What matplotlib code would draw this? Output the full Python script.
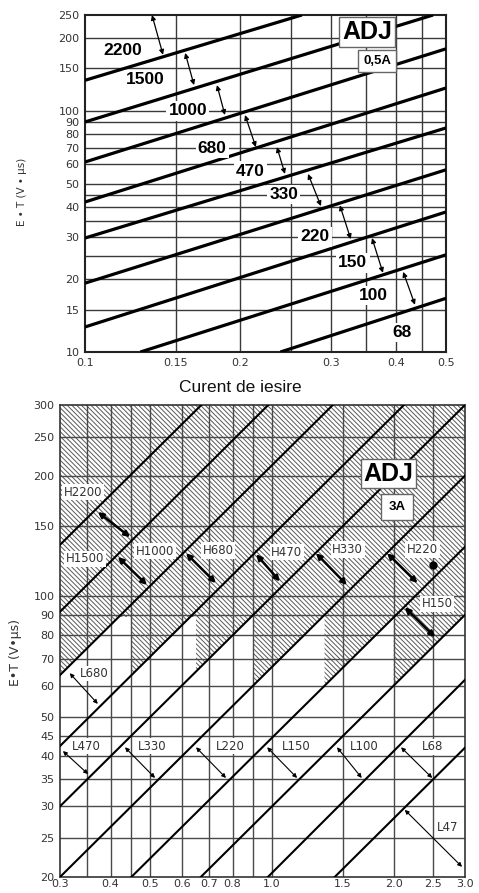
import matplotlib
matplotlib.use('Agg')
import matplotlib.pyplot as plt
import numpy as np
from matplotlib.ticker import NullLocator, NullFormatter

plt.rcParams['hatch.linewidth'] = 0.7
plt.rcParams['font.family'] = ['DejaVu Sans']

# ---------------- TOP PANEL DATA (0,5A) ----------------
top_x_ticks = [0.1, 0.15, 0.2, 0.3, 0.4, 0.5]
top_x_ticklabels = ['0.1', '0.15', '0.2', '0.3', '0.4', '0.5']
top_y_ticks = [10, 15, 20, 30, 40, 50, 60, 70, 80, 90, 100, 150, 200, 250]
top_y_ticklabels = [str(v) for v in top_y_ticks]
top_x_grid = [0.15, 0.2, 0.25, 0.3, 0.35, 0.4, 0.45]
top_y_grid = [15, 20, 25, 30, 35, 40, 45, 50, 60, 70, 80, 90, 100, 150, 200]

# inductance boundary lines (start / end points)
top_line_x0 = [0.1, 0.1, 0.1, 0.1, 0.1, 0.1, 0.1, 0.128, 0.239]
top_line_y0 = [134, 90, 61.4, 41.9, 29.7, 19.3, 12.7, 10, 10]
top_line_x1 = [0.263, 0.472, 0.5, 0.5, 0.5, 0.5, 0.5, 0.5, 0.5]
top_line_y1 = [250, 250, 181, 124.5, 85, 57, 38.1, 25.3, 16.7]

top_labels = ['2200', '1500', '1000', '680', '470', '330', '220', '150', '100', '68']
top_label_x = [0.1185, 0.1307, 0.1582, 0.1763, 0.2087, 0.2428, 0.2788, 0.3302, 0.3609, 0.4108]
top_label_y = [178.9, 134.4, 100, 70, 56.3, 45, 30, 23.4, 17.2, 12.0]

top_arr_x0 = [0.1348, 0.1563, 0.1801, 0.2041, 0.2353, 0.2703, 0.3115, 0.3595, 0.4131]
top_arr_y0 = [250, 174, 128, 96.2, 70.8, 54.8, 40.6, 29.7, 21.5]
top_arr_x1 = [0.1416, 0.1626, 0.1866, 0.2142, 0.2439, 0.2863, 0.3270, 0.3775, 0.4354]
top_arr_y1 = [171, 128, 96.2, 70.8, 54.8, 40.3, 29.4, 21.3, 15.7]

# ---------------- BOTTOM PANEL DATA (3A) ----------------
bot_x_ticks = [0.3, 0.4, 0.5, 0.6, 0.7, 0.8, 1.0, 1.5, 2.0, 2.5, 3.0]
bot_x_ticklabels = ['0.3', '0.4', '0.5', '0.6', '0.7', '0.8', '1.0', '1.5', '2.0', '2.5', '3.0']
bot_y_ticks = [20, 25, 30, 35, 40, 45, 50, 60, 70, 80, 90, 100, 150, 200, 250, 300]
bot_y_ticklabels = [str(v) for v in bot_y_ticks]
bot_x_grid = [0.35, 0.4, 0.45, 0.5, 0.6, 0.7, 0.8, 0.9, 1.0, 1.5, 2.0, 2.5]
bot_y_grid = [25, 30, 35, 40, 45, 50, 60, 70, 80, 90, 100, 150, 200, 250]

bot_line_x0 = [0.3, 0.3, 0.3, 0.3, 0.3, 0.3, 0.45, 0.668, 0.978, 1.43]
bot_line_y0 = [134.5, 91.6, 63.7, 42.4, 30, 20, 20, 20, 20, 20]
bot_line_x1 = [0.67, 0.98, 1.415, 2.12, 3.0, 3.0, 3.0, 3.0, 3.0, 3.0]
bot_line_y1 = [300, 300, 300, 300, 300, 200, 133, 90, 62, 42]

hatch_level = 89
hatch_tri_left = [0.3, 0.45, 0.65, 0.9, 1.35, 2.0]
hatch_tri_line = [2, 3, 4, 5, 6, 7]

bot_h_labels = ['H2200', 'H1500', 'H1000', 'H680', 'H470', 'H330', 'H220', 'H150']
bot_h_x = [0.342, 0.346, 0.515, 0.737, 1.09, 1.54, 2.36, 2.56]
bot_h_y = [182, 124, 129.8, 130, 129, 131, 131, 95.8]

bot_l_labels = ['L680', 'L470', 'L330', 'L220', 'L150', 'L100', 'L68', 'L47']
bot_l_x = [0.364, 0.349, 0.506, 0.789, 1.15, 1.69, 2.49, 2.72]
bot_l_y = [64.4, 42.4, 42.4, 42.4, 42.4, 42.4, 42.2, 26.6]

bold_arr_x0 = [0.372, 0.417, 0.614, 0.915, 1.286, 1.927, 2.13]
bold_arr_y0 = [162.4, 125.5, 128.2, 127.4, 128.2, 128.2, 94]
bold_arr_x1 = [0.447, 0.492, 0.728, 1.048, 1.533, 2.29, 2.53]
bold_arr_y1 = [140.6, 106.8, 108, 109, 106.8, 108, 79.2]

thin_arr_x0 = [0.317, 0.305, 0.434, 0.650, 0.974, 1.449, 2.085, 2.13]
thin_arr_y0 = [64.4, 41.2, 42.1, 42.1, 42.1, 42.1, 42.1, 29.4]
thin_arr_x1 = [0.372, 0.352, 0.515, 0.771, 1.155, 1.668, 2.49, 2.95]
thin_arr_y1 = [54, 36.1, 35.3, 35.3, 35.3, 35.3, 35.3, 21.2]

dot_x = [2.5]
dot_y = [120]

W, H = 479, 893
fig = plt.figure(figsize=(W / 100, H / 100), dpi=100)
fig.patch.set_facecolor('white')

def px_axes(l, t, r, b):
    return fig.add_axes([l / W, 1 - b / H, (r - l) / W, (b - t) / H])

tick_color = '#333333'

def setup(ax, xlim, ylim, xt, xtl, yt, ytl, xg, yg, gridc, gridlw, padx, pady, fs):
    ax.set_xscale('log')
    ax.set_yscale('log')
    ax.set_xlim(*xlim)
    ax.set_ylim(*ylim)
    for g in xg:
        ax.axvline(g, color=gridc, lw=gridlw, zorder=1)
    for g in yg:
        ax.axhline(g, color=gridc, lw=gridlw, zorder=1)
    ax.set_xticks(xt)
    ax.set_xticklabels(xtl)
    ax.set_yticks(yt)
    ax.set_yticklabels(ytl)
    ax.xaxis.set_minor_locator(NullLocator())
    ax.yaxis.set_minor_locator(NullLocator())
    ax.xaxis.set_minor_formatter(NullFormatter())
    ax.yaxis.set_minor_formatter(NullFormatter())
    ax.tick_params(axis='x', length=0, pad=padx, labelsize=fs, colors=tick_color)
    ax.tick_params(axis='y', length=0, pad=pady, labelsize=fs, colors=tick_color)

# ================= TOP =================
ax1 = px_axes(85, 15, 446, 352)
setup(ax1, (0.1, 0.5), (10, 250), top_x_ticks, top_x_ticklabels, top_y_ticks,
      top_y_ticklabels, top_x_grid, top_y_grid, '#3a3a3a', 1.0, 4, 4, 8)
for s in ax1.spines.values():
    s.set_linewidth(1.5)
    s.set_color('#222222')

for i in range(len(top_line_x0)):
    ax1.plot([top_line_x0[i], top_line_x1[i]], [top_line_y0[i], top_line_y1[i]],
             color='black', lw=2.3, solid_capstyle='butt', zorder=3)

for i in range(len(top_arr_x0)):
    ax1.annotate('', xy=(top_arr_x1[i], top_arr_y1[i]), xytext=(top_arr_x0[i], top_arr_y0[i]),
                 arrowprops=dict(arrowstyle='<|-|>', lw=0.9, color='black',
                                 mutation_scale=7, shrinkA=0, shrinkB=0), zorder=4)

for t, x, y in zip(top_labels, top_label_x, top_label_y):
    ax1.text(x, y, t, ha='center', va='center', fontsize=12.5, fontweight='bold',
             family=['Liberation Sans'], zorder=5,
             bbox=dict(boxstyle='square,pad=0.12', fc='white', ec='none'))

ax1.text(0.3513, 213, 'ADJ', ha='center', va='center', fontsize=18, fontweight='bold',
         family=['Liberation Sans'], zorder=6,
         bbox=dict(boxstyle='square,pad=0.12', fc='white', ec='#666666', lw=1))
ax1.text(0.3676, 161, '0,5A', ha='center', va='center', fontsize=9.5, fontweight='bold',
         family=['Liberation Sans'], zorder=6,
         bbox=dict(boxstyle='square,pad=0.35', fc='white', ec='#666666', lw=1))

fig.text(22 / W, 1 - 192 / H, 'E • T (V • µs)', rotation=90, ha='center', va='center',
         fontsize=7.5, color='#333333')
fig.text(240 / W, 1 - 388 / H, 'Curent de iesire', ha='center', va='center',
         fontsize=12.5, family=['Liberation Sans'], color='#111111')

# ================= BOTTOM =================
ax2 = px_axes(60, 405, 465, 877)
setup(ax2, (0.3, 3.0), (20, 300), bot_x_ticks, bot_x_ticklabels, bot_y_ticks,
      bot_y_ticklabels, bot_x_grid, bot_y_grid, '#4a4a4a', 1.0, 1.5, 4, 8)
for s in ax2.spines.values():
    s.set_linewidth(1.2)
    s.set_color('#333333')

def line_param(i):
    xa, ya, xb, yb = bot_line_x0[i], bot_line_y0[i], bot_line_x1[i], bot_line_y1[i]
    s = np.log(yb / ya) / np.log(xb / xa)
    return xa, ya, s

hatch_kw = dict(facecolor='none', edgecolor='#5a5a5a', hatch='\\\\\\\\\\\\\\', linewidth=0, zorder=0.5)
ax2.fill([0.3, 3.0, 3.0, 0.3], [hatch_level, hatch_level, 300, 300], **hatch_kw)
for xl, li in zip(hatch_tri_left, hatch_tri_line):
    xa, ya, s = line_param(li)
    y_at = ya * (xl / xa) ** s
    x_at = xa * (hatch_level / ya) ** (1 / s)
    ax2.fill([xl, xl, x_at], [hatch_level, y_at, hatch_level], **hatch_kw)

for i in range(len(bot_line_x0)):
    ax2.plot([bot_line_x0[i], bot_line_x1[i]], [bot_line_y0[i], bot_line_y1[i]],
             color='black', lw=1.5, zorder=3)

for i in range(len(bold_arr_x0)):
    ax2.annotate('', xy=(bold_arr_x1[i], bold_arr_y1[i]), xytext=(bold_arr_x0[i], bold_arr_y0[i]),
                 arrowprops=dict(arrowstyle='<|-|>', lw=1.8, color='black',
                                 mutation_scale=8, shrinkA=0, shrinkB=0), zorder=4)
for i in range(len(thin_arr_x0)):
    ax2.annotate('', xy=(thin_arr_x1[i], thin_arr_y1[i]), xytext=(thin_arr_x0[i], thin_arr_y0[i]),
                 arrowprops=dict(arrowstyle='<|-|>', lw=0.8, color='black',
                                 mutation_scale=6, shrinkA=0, shrinkB=0), zorder=4)

for t, x, y in zip(bot_h_labels, bot_h_x, bot_h_y):
    ax2.text(x, y, t, ha='center', va='center', fontsize=8.5, color='#333333', zorder=5,
             bbox=dict(boxstyle='square,pad=0.15', fc='white', ec='none'))
for t, x, y in zip(bot_l_labels, bot_l_x, bot_l_y):
    ax2.text(x, y, t, ha='center', va='center', fontsize=8.5, color='#333333', zorder=5,
             bbox=dict(boxstyle='square,pad=0.1', fc='white', ec='none'))

ax2.plot(dot_x, dot_y, 'o', color='black', ms=5, zorder=5)

ax2.text(1.94, 202, 'ADJ', ha='center', va='center', fontsize=18, fontweight='bold',
         family=['Liberation Sans'], zorder=6,
         bbox=dict(boxstyle='square,pad=0.1', fc='white', ec='#666666', lw=1))
ax2.text(2.04, 167, '3A', ha='center', va='center', fontsize=9.5, fontweight='bold',
         family=['Liberation Sans'], zorder=6,
         bbox=dict(boxstyle='square,pad=0.55', fc='white', ec='#666666', lw=1))

fig.text(15 / W, 1 - 652 / H, 'E•T (V•µs)', rotation=90, ha='center', va='center',
         fontsize=9, color='#333333')

fig.savefig('out.png', dpi=100, facecolor='white')
